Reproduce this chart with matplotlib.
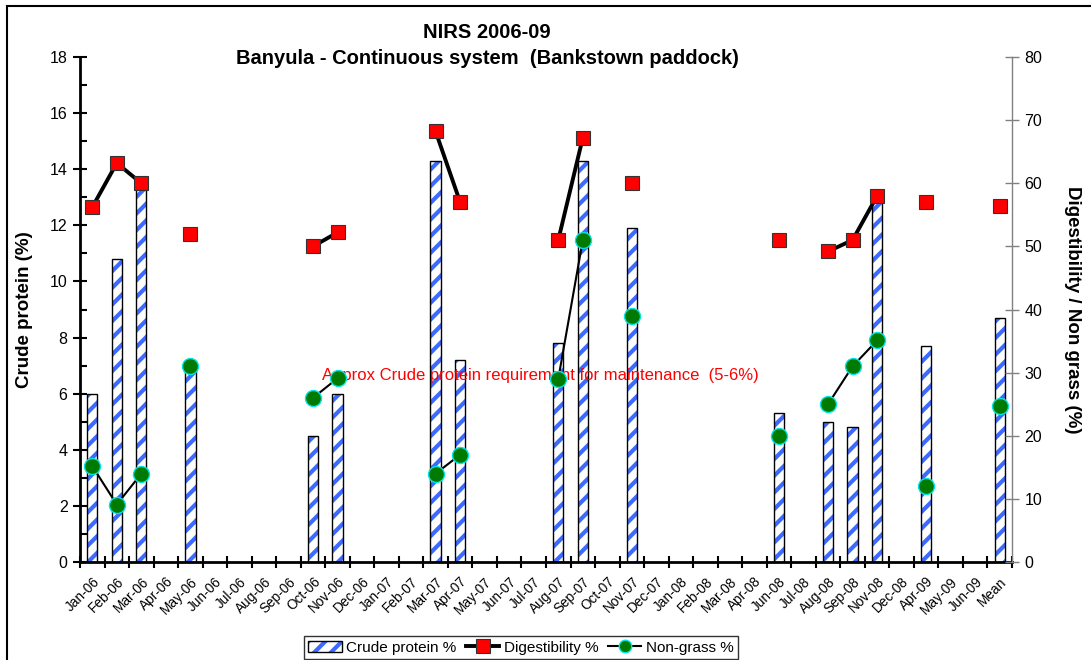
import numpy as np
import matplotlib
matplotlib.use("Agg")
import matplotlib.pyplot as plt
import matplotlib.transforms as mtransforms
from matplotlib.patches import Rectangle
from matplotlib.lines import Line2D
from matplotlib.ticker import MultipleLocator

plt.rcParams['font.family'] = ['Liberation Sans', 'DejaVu Sans']
plt.rcParams['hatch.linewidth'] = 3.0

nan = np.nan

# ---- data ----
months = ["Jan-06", "Feb-06", "Mar-06", "Apr-06", "May-06", "Jun-06", "Jul-06", "Aug-06",
          "Sep-06", "Oct-06", "Nov-06", "Dec-06", "Jan-07", "Feb-07", "Mar-07", "Apr-07",
          "May-07", "Jun-07", "Jul-07", "Aug-07", "Sep-07", "Oct-07", "Nov-07", "Dec-07",
          "Jan-08", "Feb-08", "Mar-08", "Apr-08", "Jun-08", "Jul-08", "Aug-08", "Sep-08",
          "Nov-08", "Dec-08", "Apr-09", "May-09", "Jun-09", "Mean"]

crude_protein = [6.0, 10.8, 13.4, nan, 7.0, nan, nan, nan,
                 nan, 4.5, 6.0, nan, nan, nan, 14.3, 7.2,
                 nan, nan, nan, 7.8, 14.3, nan, 11.9, nan,
                 nan, nan, nan, nan, 5.3, nan, 5.0, 4.8,
                 13.0, nan, 7.7, nan, nan, 8.7]

digestibility = [56.2, 63.2, 60.0, nan, 52.0, nan, nan, nan,
                 nan, 50.0, 52.2, nan, nan, nan, 68.2, 57.0,
                 nan, nan, nan, 51.0, 67.2, nan, 60.0, nan,
                 nan, nan, nan, nan, 51.0, nan, 49.2, 51.0,
                 58.0, nan, 57.0, nan, nan, 56.4]

non_grass = [15.2, 9.1, 14.0, nan, 31.0, nan, nan, nan,
             nan, 26.0, 29.1, nan, nan, nan, 14.0, 17.0,
             nan, nan, nan, 29.0, 51.0, nan, 39.0, nan,
             nan, nan, nan, nan, 20.0, nan, 25.0, 31.0,
             35.1, nan, 12.0, nan, nan, 24.7]

note_text = "Approx Crude protein requirement for maintenance  (5-6%)"

# ---- figure ----
fig = plt.figure(figsize=(10.91, 6.6), dpi=100, facecolor='w')
ax1 = fig.add_axes([80/1091., 1-562/660., 932/1091., 505/660.])
ax2 = ax1.twinx()

x = np.arange(len(months))
bar_w = 0.42
blue = '#3D6BFF'

# hatched fill, then black outline
ax1.bar(x, crude_protein, width=bar_w, facecolor='white', edgecolor=blue,
        hatch='//', linewidth=0, zorder=2)
ax1.bar(x, crude_protein, width=bar_w, facecolor='none', edgecolor='black',
        linewidth=1.0, zorder=3)

ax1.text(9.38, 6.66, note_text, color='red', fontsize=12, ha='left', va='center', zorder=4)

ax2.plot(x, digestibility, color='black', lw=2.8, marker='s', markersize=9.5,
         markerfacecolor='red', markeredgecolor='#333333', markeredgewidth=0.8, zorder=3)
ax2.plot(x, non_grass, color='black', lw=1.5, marker='o', markersize=11.5,
         markerfacecolor='#007A00', markeredgecolor='#00E5E5', markeredgewidth=1.0, zorder=4)

# ---- axes styling ----
ax1.set_xlim(-0.5, len(months) - 0.5)
ax1.set_ylim(0, 18)
ax2.set_ylim(0, 80)

ax1.yaxis.set_major_locator(MultipleLocator(2))
ax1.yaxis.set_minor_locator(MultipleLocator(1))
ax2.yaxis.set_major_locator(MultipleLocator(10))

ax1.set_xticks(np.arange(len(months) + 1) - 0.5)
ax1.set_xticklabels([])
ax1.set_xticks(x, minor=True)
ax1.set_xticklabels(months, minor=True, rotation=45, ha='right', rotation_mode='anchor',
                    fontsize=9.8)
offset = mtransforms.ScaledTranslation(-0.14, 0, fig.dpi_scale_trans)
for lab in ax1.xaxis.get_minorticklabels():
    lab.set_transform(lab.get_transform() + offset)

ax1.tick_params(axis='x', which='major', direction='inout', length=9, width=1.5)
ax1.tick_params(axis='x', which='minor', length=0, pad=9)
ax1.tick_params(axis='y', which='major', direction='inout', length=10, width=1.5,
                labelsize=11.5, pad=4)
ax1.tick_params(axis='y', which='minor', direction='in', length=5, width=1.5)
ax2.tick_params(axis='y', which='major', direction='inout', length=10, width=1,
                color='#808080', labelsize=11.5, pad=4)

for s in ['top']:
    ax1.spines[s].set_visible(False)
    ax2.spines[s].set_visible(False)
ax1.spines['left'].set_linewidth(2)
ax1.spines['bottom'].set_linewidth(2)
ax1.spines['right'].set_visible(False)
ax2.spines['left'].set_visible(False)
ax2.spines['bottom'].set_visible(False)
ax2.spines['right'].set_color('#808080')
ax2.spines['right'].set_linewidth(1)

ax1.set_ylabel("Crude protein (%)", fontsize=13.5, fontweight='bold', labelpad=12)
ax2.set_ylabel("Digestibility / Non grass (%)", fontsize=13.5, fontweight='bold',
               rotation=270, labelpad=28)

fig.text(487/1091., 1-33/660., "NIRS 2006-09", fontsize=14.5, fontweight='bold',
         ha='center', va='center')
fig.text(487/1091., 1-58/660., "Banyula - Continuous system  (Bankstown paddock)",
         fontsize=14.5, fontweight='bold', ha='center', va='center')

# ---- legend ----
h_bar = Rectangle((0, 0), 1, 1, facecolor='white', edgecolor=blue, hatch='//', linewidth=0)
h_bar_outline = Rectangle((0, 0), 1, 1, facecolor='none', edgecolor='black', linewidth=1)
h_dig = Line2D([], [], color='black', lw=2.8, marker='s', markersize=9.5,
               markerfacecolor='red', markeredgecolor='#333333', markeredgewidth=0.8)
h_ng = Line2D([], [], color='black', lw=1.5, marker='o', markersize=9,
              markerfacecolor='#007A00', markeredgecolor='#00E5E5', markeredgewidth=1.0)
leg = fig.legend([(h_bar, h_bar_outline), h_dig, h_ng],
                 ["Crude protein %", "Digestibility %", "Non-grass %"],
                 loc='upper center', bbox_to_anchor=(521/1091., 1-636/660.), ncol=3,
                 fontsize=11, frameon=True, fancybox=False, edgecolor='black',
                 handlelength=2.2, handletextpad=0.3, columnspacing=0.6,
                 borderpad=0.3, borderaxespad=0)
leg.get_frame().set_linewidth(1)

# outer chart border (left and top edges visible)
fig.patches.append(Rectangle((7/1091., -0.1), 2, 1 - 6/660. + 0.1, fill=False,
                             edgecolor='black', linewidth=1.5, transform=fig.transFigure))

fig.savefig("out.png", dpi=100)
